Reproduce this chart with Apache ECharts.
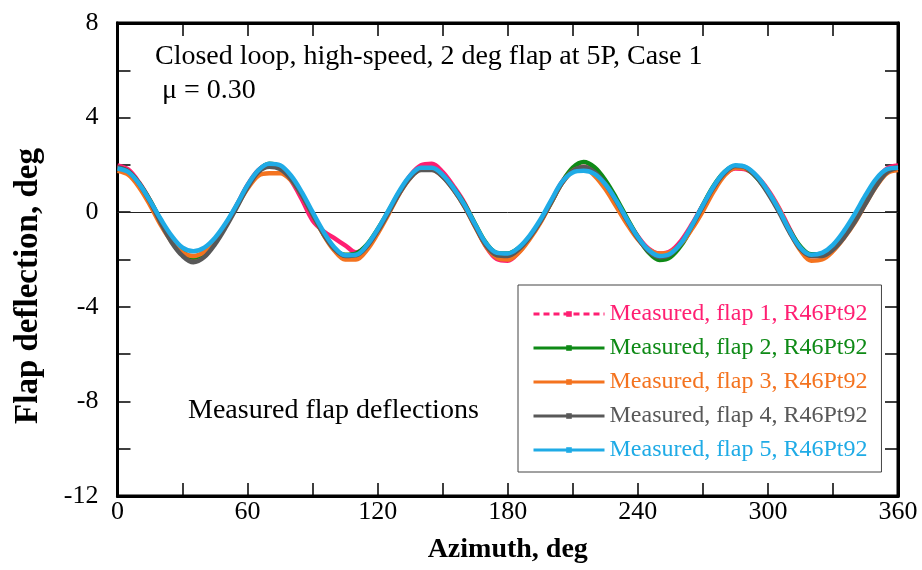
<!DOCTYPE html>
<html>
<head>
<meta charset="utf-8">
<script src="https://cdn.jsdelivr.net/npm/echarts@6/dist/echarts.min.js"></script>
<style>html,body{margin:0;padding:0;background:#fff}#c{width:922px;height:570px}</style>
</head>
<body>
<div id="c"></div>
<script>
const azimuth = [0,5,10,15,20,25,30,35,40,45,50,55,60,65,70,75,80,85,90,95,100,105,110,115,120,125,130,135,140,145,150,155,160,165,170,175,180,185,190,195,200,205,210,215,220,225,230,235,240,245,250,255,260,265,270,275,280,285,290,295,300,305,310,315,320,325,330,335,340,345,350,355,360];

const flap1 = [1.98,1.8,1.25,0.5,-0.4,-1.2,-1.75,-1.98,-1.78,-1.25,-0.55,0.3,1.15,1.78,2.02,1.9,1.35,0.55,-0.35,-0.8,-1.1,-1.4,-1.7,-1.42,-0.8,0,0.82,1.55,1.98,2.05,1.7,1.1,0.4,-0.55,-1.45,-1.98,-2.05,-1.7,-1.1,-0.4,0.45,1.28,1.8,1.92,1.72,1.22,0.5,-0.3,-1.02,-1.55,-1.75,-1.65,-1.2,-0.5,0.3,1.05,1.6,1.85,1.8,1.5,0.95,0.2,-0.7,-1.5,-1.85,-1.8,-1.45,-0.9,-0.2,0.6,1.35,1.85,1.98];
const flap2 = [1.88,1.72,1.22,0.5,-0.35,-1.12,-1.65,-1.92,-1.7,-1.2,-0.5,0.28,1.12,1.75,2.05,1.92,1.45,0.75,-0.1,-0.92,-1.55,-1.8,-1.75,-1.38,-0.72,0.05,0.85,1.5,1.82,1.82,1.55,1.02,0.35,-0.5,-1.3,-1.72,-1.75,-1.52,-1.05,-0.4,0.4,1.25,1.88,2.12,1.9,1.35,0.6,-0.25,-1.05,-1.7,-2.02,-1.9,-1.4,-0.62,0.3,1.12,1.7,1.95,1.85,1.45,0.85,0.1,-0.75,-1.45,-1.78,-1.75,-1.42,-0.88,-0.2,0.6,1.32,1.78,1.88];
const flap3 = [1.75,1.58,1.05,0.3,-0.55,-1.25,-1.72,-1.85,-1.68,-1.2,-0.55,0.25,1.0,1.55,1.65,1.65,1.35,0.72,-0.1,-0.95,-1.62,-2.0,-2.0,-1.6,-0.9,-0.08,0.78,1.45,1.8,1.8,1.5,0.95,0.25,-0.62,-1.45,-1.92,-2.0,-1.72,-1.15,-0.45,0.4,1.22,1.75,1.88,1.55,0.98,0.25,-0.5,-1.15,-1.58,-1.75,-1.68,-1.32,-0.7,0.05,0.88,1.55,1.88,1.85,1.5,0.9,0.15,-0.8,-1.62,-2.05,-2.0,-1.65,-1.1,-0.45,0.35,1.1,1.65,1.78];
const flap4 = [1.9,1.72,1.2,0.45,-0.45,-1.28,-1.85,-2.12,-1.9,-1.35,-0.62,0.2,1.05,1.7,1.92,1.82,1.4,0.72,-0.1,-0.92,-1.55,-1.85,-1.82,-1.45,-0.8,-0.02,0.8,1.45,1.78,1.78,1.5,0.95,0.25,-0.6,-1.4,-1.82,-1.85,-1.58,-1.08,-0.4,0.42,1.22,1.75,1.9,1.7,1.2,0.48,-0.35,-1.1,-1.65,-1.9,-1.78,-1.3,-0.58,0.25,1.05,1.65,1.95,1.88,1.45,0.8,0.02,-0.85,-1.55,-1.85,-1.85,-1.58,-1.08,-0.42,0.35,1.12,1.7,1.88];
const flap5 = [1.85,1.7,1.2,0.48,-0.3,-1.0,-1.5,-1.65,-1.5,-1.08,-0.45,0.32,1.15,1.78,2.05,1.98,1.55,0.85,0.0,-0.82,-1.48,-1.82,-1.8,-1.4,-0.72,0.08,0.9,1.55,1.88,1.88,1.58,1.02,0.32,-0.52,-1.32,-1.72,-1.75,-1.5,-1.0,-0.32,0.5,1.28,1.68,1.75,1.62,1.18,0.5,-0.3,-1.05,-1.6,-1.85,-1.75,-1.3,-0.55,0.3,1.1,1.7,1.98,1.9,1.52,0.9,0.12,-0.78,-1.5,-1.8,-1.72,-1.38,-0.8,-0.08,0.72,1.42,1.82,1.88];

const seriesNames = ['Measured, flap 1, R46Pt92','Measured, flap 2, R46Pt92','Measured, flap 3, R46Pt92','Measured, flap 4, R46Pt92','Measured, flap 5, R46Pt92'];
const seriesColors = ['#ff1f72','#0e8a16','#f4731f','#585858','#1fabe6'];
const seriesValues = [flap1, flap2, flap3, flap4, flap5];

const xTicks = [0,60,120,180,240,300,360];
const yTicks = [-12,-8,-4,0,4,8];

const FONT = 'Liberation Serif';
const chart = echarts.init(document.getElementById('c'));

const tickStyle = {show:true, inside:true, length:13, lineStyle:{color:'#000', width:1.5}};
const axisLineStyle = {show:true, onZero:false, lineStyle:{color:'#000', width:3}};
const series = seriesNames.map((n,i)=>({
  name:n, type:'line', xAxisIndex:0, yAxisIndex:0,
  data: azimuth.map((a,k)=>[a, seriesValues[i][k]]),
  smooth:0.35, symbol:'rect', symbolSize:5, showSymbol:false,
  lineStyle:{color:seriesColors[i], width:4.5},
  itemStyle:{color:seriesColors[i]},
  z: 3 + i
}));
series[0].markLine = {silent:true, symbol:'none', label:{show:false}, lineStyle:{color:'#222', width:1, type:'solid'}, data:[{yAxis:0}], z:1};

chart.setOption({
  animation:false,
  backgroundColor:'#fff',
  grid:{left:117.5, right:24, top:23, bottom:74, show:true, borderColor:'#000', borderWidth:3, backgroundColor:'transparent'},
  xAxis:[
    {type:'value', min:0, max:360, interval:30, position:'bottom',
     axisLine:axisLineStyle, axisTick:tickStyle, splitLine:{show:false},
     axisLabel:{margin:3, color:'#000', fontFamily:FONT, fontSize:26, formatter:v=> xTicks.includes(v)? String(v):''},
     name:'Azimuth, deg', nameLocation:'middle', nameGap:40,
     nameTextStyle:{fontFamily:FONT, fontWeight:'bold', fontSize:28, color:'#000'}},
    {type:'value', min:0, max:360, interval:30, position:'top',
     axisLine:axisLineStyle, axisTick:tickStyle, axisLabel:{show:false}, splitLine:{show:false}}
  ],
  yAxis:[
    {type:'value', min:-12, max:8, interval:2, position:'left',
     axisLine:axisLineStyle, axisTick:tickStyle, splitLine:{show:false},
     axisLabel:{margin:19, color:'#000', fontFamily:FONT, fontSize:26, formatter:v=> yTicks.includes(v)? String(v):''}},
    {type:'value', min:-12, max:8, interval:2, position:'right',
     axisLine:axisLineStyle, axisTick:tickStyle, axisLabel:{show:false}, splitLine:{show:false}}
  ],
  legend:{
    orient:'vertical', left:518, top:285,
    padding:[17,14,10,14], itemGap:10, itemWidth:71, itemHeight:7,
    backgroundColor:'#fff', borderColor:'#444', borderWidth:1,
    textStyle:{fontFamily:FONT, fontSize:24, lineHeight:24},
    data: seriesNames.map((n,i)=>({name:n, textStyle:{color:seriesColors[i]},
      lineStyle: i===0 ? {type:[6,4], width:3} : {width:3}}))
  },
  graphic:[
    {type:'text', x:28, y:286, rotation:Math.PI/2, style:{text:'Flap deflection, deg', fontFamily:FONT, fontWeight:'bold', fontSize:33, fill:'#000', align:'center', verticalAlign:'middle'}},
    {type:'text', left:155, top:43, style:{text:'Closed loop, high-speed, 2 deg flap at 5P, Case 1', fontFamily:FONT, fontSize:28, fill:'#000'}},
    {type:'text', left:162, top:77, style:{text:'\u03bc = 0.30', fontFamily:FONT, fontSize:28, fill:'#000'}},
    {type:'text', left:188, top:397, style:{text:'Measured flap deflections', fontFamily:FONT, fontSize:28, fill:'#000'}}
  ],
  series: series
});
</script>
</body>
</html>
